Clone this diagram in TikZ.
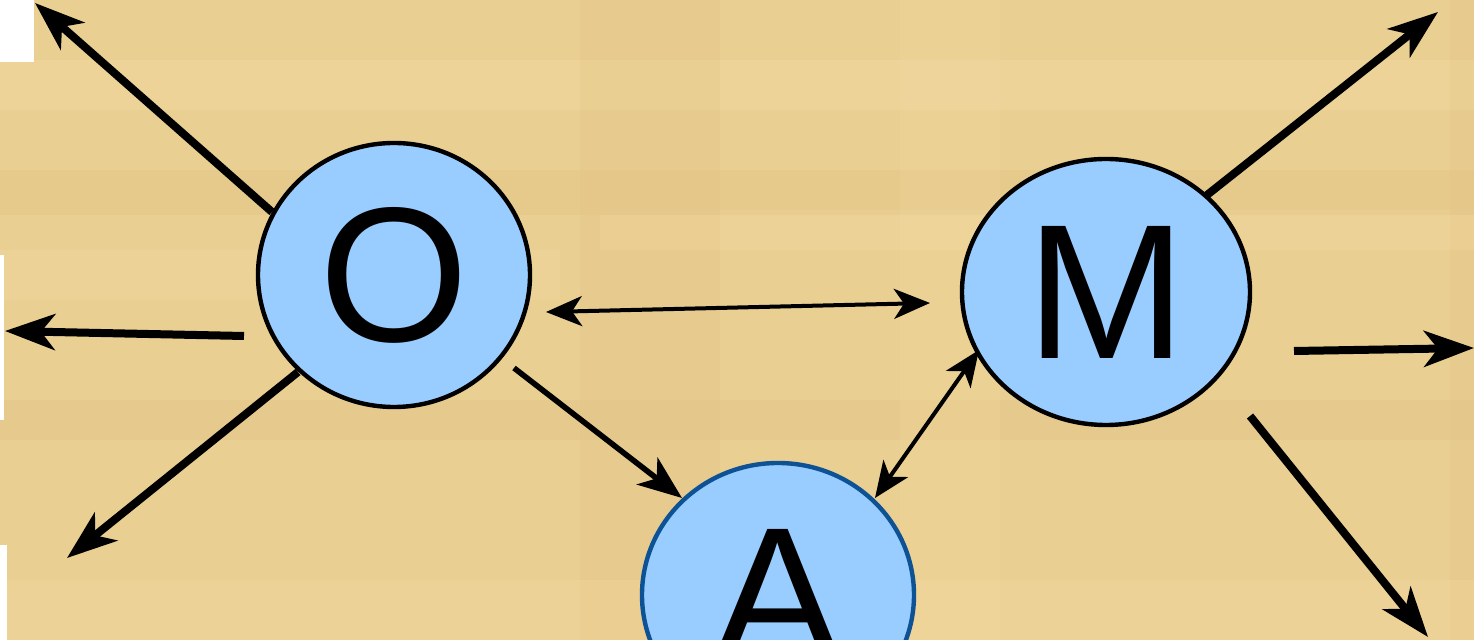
\documentclass[tikz,border=0pt]{standalone}
\usepackage{fontspec}
\setmainfont{Liberation Sans}
\usetikzlibrary{arrows.meta,shapes.geometric}
\definecolor{papyrus}{HTML}{EACF92}
\definecolor{papylight}{HTML}{F5DCA4}
\definecolor{papydark}{HTML}{D9BA7A}
\definecolor{nodeblue}{HTML}{99CCFF}
\definecolor{aborder}{HTML}{0E5296}
\tikzset{
  bignode/.style={ellipse, draw=black, line width=2.2pt, fill=nodeblue, inner sep=0pt,
    font=\fontsize{96}{96}\selectfont},
  bigarrow/.style={line width=4pt, -{Stealth[length=25pt,width=18pt,inset=7pt]}},
  midarrow/.style={line width=2.8pt, -{Stealth[length=22pt,width=17pt,inset=6pt]}},
  thinarrow/.style={line width=2pt, {Stealth[length=18pt,width=15pt,inset=5pt]}-{Stealth[length=18pt,width=15pt,inset=5pt]}},
}
\begin{document}
\begin{tikzpicture}[x=0.5pt,y=-0.5pt]
\useasboundingbox (0,0) rectangle (1474,640);
\clip (0,0) rectangle (1474,640);
% background
\fill[papyrus] (0,0) rectangle (1474,640);
\fill[papylight,opacity=0.35] (0,60) rectangle (1474,110);
\fill[papylight,opacity=0.3] (600,210) rectangle (1474,250);
\fill[papydark,opacity=0.22] (0,170) rectangle (1474,215);
\fill[papydark,opacity=0.2] (0,400) rectangle (1474,440);
\fill[papylight,opacity=0.3] (0,580) rectangle (1474,640);
\fill[papydark,opacity=0.15] (580,0) rectangle (720,640);
\fill[papylight,opacity=0.2] (900,0) rectangle (1000,640);
\fill[papydark,opacity=0.15] (1450,0) rectangle (1474,640);
\fill[papylight,opacity=0.25] (0,250) rectangle (560,300);
% white patches at left edge
\fill[white] (0,0) rectangle (34,62);
\fill[white] (0,255) rectangle (4,420);
\fill[white] (0,545) rectangle (7,640);

% nodes
\node[bignode, minimum width=136pt, minimum height=132pt] (O) at (394,275) {O};
\node[bignode, minimum width=144pt, minimum height=133pt] (M) at (1106,292) {M};
\node[bignode, draw=aborder, minimum width=136pt, minimum height=132pt] (A) at (778,595) {A};

% free ends
\coordinate (o1s) at (272,212); \coordinate (o1e) at (35,3);
\coordinate (o2s) at (244,336); \coordinate (o2e) at (5,331);
\coordinate (o3s) at (298,372); \coordinate (o3e) at (67,558);
\coordinate (om1) at (546,312); \coordinate (om2) at (930,303);
\coordinate (oas) at (514,368); \coordinate (oae) at (682,498);
\coordinate (ma1) at (979,350); \coordinate (ma2) at (875,498);
\coordinate (m1s) at (1207,195); \coordinate (m1e) at (1438,12);
\coordinate (m2s) at (1294,351); \coordinate (m2e) at (1474,348);
\coordinate (m3s) at (1250,416); \coordinate (m3e) at (1428,637);

\draw[bigarrow] (o1s) -- (o1e);
\draw[bigarrow] (o2s) -- (o2e);
\draw[bigarrow] (o3s) -- (o3e);
\draw[thinarrow] (om1) -- (om2);
\draw[midarrow] (oas) -- (oae);
\draw[thinarrow] (ma1) -- (ma2);
\draw[bigarrow] (m1s) -- (m1e);
\draw[bigarrow] (m2s) -- (m2e);
\draw[bigarrow] (m3s) -- (m3e);
\end{tikzpicture}
\end{document}
